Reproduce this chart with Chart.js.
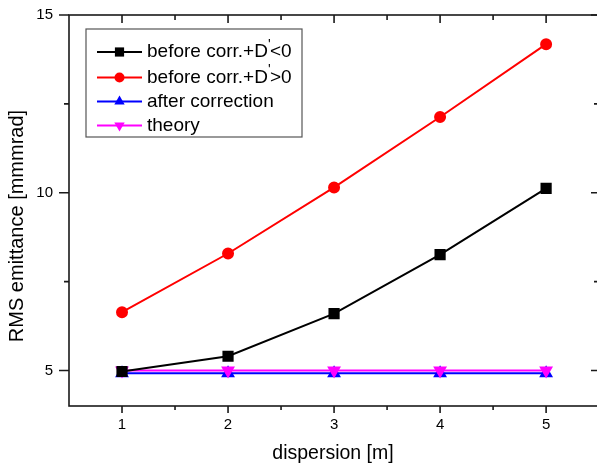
<!DOCTYPE html>
<html>
<head>
<meta charset="utf-8">
<script src="https://cdn.jsdelivr.net/npm/chart.js@4.4.1/dist/chart.umd.min.js"></script>
<style>
  html, body { margin: 0; padding: 0; background: #fff; overflow: hidden; }
</style>
</head>
<body>
<canvas id="chart" width="597" height="466"></canvas>
<script>
// values
const dispersion = [1, 2, 3, 4, 5];
const beforeNeg = [4.97, 5.40, 6.60, 8.26, 10.12];
const beforePos = [6.64, 8.29, 10.15, 12.13, 14.18];
const afterCorr = [4.92, 4.92, 4.92, 4.92, 4.92];
const theory = [5.0, 5.0, 5.0, 5.0, 5.0];
const seriesNames = ["before corr.+D'<0", "before corr.+D'>0", 'after correction', 'theory'];
const xMajor = [1, 2, 3, 4, 5];
const xMinor = [1.5, 2.5, 3.5, 4.5];
const yMajor = [5, 10, 15];
const yMinor = [7.5, 12.5];

const FONT = "'Liberation Sans', Arial, sans-serif";

function pts(vals) {
    return dispersion.map((d, i) => ({ x: d, y: vals[i] }));
}

// frame, ticks on all four sides, axis titles and the boxed legend
// (the picture is cropped just before the right frame line)
const framePlugin = {
    id: 'frame',
    afterDatasetsDraw(chart) {
        const ctx = chart.ctx;
        const a = chart.chartArea;
        const right = a.right + 2;
        const xs = chart.scales.x, ys = chart.scales.y;
        ctx.save();
        ctx.strokeStyle = '#1a1a1a';
        ctx.lineWidth = 1.6;
        ctx.strokeRect(a.left, a.top, right - a.left, a.bottom - a.top);

        ctx.beginPath();
        const xt = (v, big) => {
            const px = xs.getPixelForValue(v);
            ctx.moveTo(px, a.bottom); ctx.lineTo(px, a.bottom + (big ? 7 : 4));
            ctx.moveTo(px, a.top); ctx.lineTo(px, a.top + (big ? 8 : 5));
        };
        const yt = (v, big) => {
            const py = ys.getPixelForValue(v);
            ctx.moveTo(a.left, py); ctx.lineTo(a.left - (big ? 10 : 5), py);
            ctx.moveTo(right, py); ctx.lineTo(right - (big ? 8 : 5), py);
        };
        xMajor.forEach(v => xt(v, true));
        xMinor.forEach(v => xt(v, false));
        yMajor.forEach(v => yt(v, true));
        yMinor.forEach(v => yt(v, false));
        ctx.stroke();

        // axis titles
        ctx.fillStyle = '#000';
        ctx.textAlign = 'center';
        ctx.textBaseline = 'middle';
        ctx.font = '19.5px ' + FONT;
        ctx.fillText('dispersion [m]', (a.left + right) / 2 - 1, 454);
        ctx.save();
        ctx.translate(17, 226);
        ctx.rotate(-Math.PI / 2);
        ctx.font = '20px ' + FONT;
        ctx.fillText('RMS emittance [mmmrad]', 0, 0);
        ctx.restore();

        // legend
        const bx = 86, by = 29, bw = 216, bh = 108;
        ctx.fillStyle = '#fff';
        ctx.fillRect(bx, by, bw, bh);
        ctx.strokeStyle = '#555';
        ctx.lineWidth = 1.2;
        ctx.strokeRect(bx, by, bw, bh);
        const rows = [52, 77.5, 101.5, 125.5];
        chart.data.datasets.forEach((ds, i) => {
            const y = rows[i];
            ctx.strokeStyle = ds.borderColor;
            ctx.lineWidth = 2;
            ctx.beginPath();
            ctx.moveTo(97, y); ctx.lineTo(142, y);
            ctx.stroke();
            ctx.fillStyle = ds.pointBackgroundColor;
            Chart.helpers.drawPoint(ctx, {
                pointStyle: ds.pointStyle,
                radius: ds.pointRadius,
                rotation: ds.pointRotation || 0,
                borderWidth: 0
            }, 119.5, y);
            ctx.fillStyle = '#000';
            ctx.textAlign = 'left';
            ctx.font = '19px ' + FONT;
            const parts = seriesNames[i].split("'");
            let tx = 147;
            ctx.fillText(parts[0], tx, y);
            if (parts.length > 1) {
                tx += ctx.measureText(parts[0]).width;
                ctx.font = '14px ' + FONT;
                ctx.fillText("'", tx, y - 7);
                tx += 2;
                ctx.font = '19px ' + FONT;
                ctx.fillText(parts[1], tx, y);
            }
        });
        ctx.restore();
    }
};

const ctx = document.getElementById('chart').getContext('2d');
const chart = new Chart(ctx, {
    type: 'line',
    data: {
        datasets: [
            {
                label: seriesNames[0], data: pts(beforeNeg), order: 0,
                borderColor: '#000000', backgroundColor: '#000000', pointBackgroundColor: '#000000',
                pointStyle: 'rect', pointRadius: 6.5, borderWidth: 2
            },
            {
                label: seriesNames[1], data: pts(beforePos), order: 1,
                borderColor: '#ff0000', backgroundColor: '#ff0000', pointBackgroundColor: '#ff0000',
                pointStyle: 'circle', pointRadius: 5, borderWidth: 2
            },
            {
                label: seriesNames[2], data: pts(afterCorr), order: 3,
                borderColor: '#0000ff', backgroundColor: '#0000ff', pointBackgroundColor: '#0000ff',
                pointStyle: 'triangle', pointRadius: 6, borderWidth: 2
            },
            {
                label: seriesNames[3], data: pts(theory), order: 2,
                borderColor: '#ff00ff', backgroundColor: '#ff00ff', pointBackgroundColor: '#ff00ff',
                pointStyle: 'triangle', pointRotation: 180, pointRadius: 6, borderWidth: 2
            }
        ]
    },
    options: {
        responsive: false,
        animation: false,
        devicePixelRatio: 1,
        layout: { autoPadding: false, padding: { top: 15, right: 0, left: 0, bottom: 0 } },
        elements: { point: { borderWidth: 0, hoverRadius: 6 }, line: { tension: 0 } },
        plugins: { legend: { display: false }, tooltip: { enabled: false } },
        scales: {
            x: {
                // axis runs to 5.5 at the (cropped) right frame
                type: 'linear', min: 0.5, max: 5.48,
                grid: { display: false, drawTicks: false },
                border: { display: false },
                afterBuildTicks: s => { s.ticks = xMajor.map(v => ({ value: v })); },
                afterFit: s => { s.height = 60; s.paddingLeft = 0; s.paddingRight = 0; },
                ticks: {
                    padding: 10, color: '#000',
                    font: { family: FONT, size: 15 },
                    callback: v => String(v)
                }
            },
            y: {
                type: 'linear', min: 4, max: 15,
                grid: { display: false, drawTicks: false },
                border: { display: false },
                afterBuildTicks: s => { s.ticks = yMajor.map(v => ({ value: v })); },
                afterFit: s => { s.width = 69; s.paddingTop = 0; s.paddingBottom = 0; },
                ticks: {
                    padding: 16, color: '#000',
                    font: { family: FONT, size: 15 },
                    callback: v => String(v)
                }
            }
        }
    },
    plugins: [framePlugin]
});
</script>
</body>
</html>
